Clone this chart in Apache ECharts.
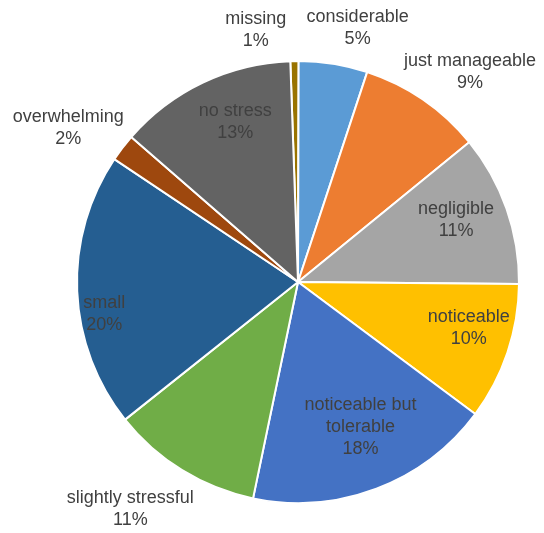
<!DOCTYPE html>
<html>
<head>
<meta charset="utf-8">
<script src="https://cdn.jsdelivr.net/npm/echarts@6/dist/echarts.min.js"></script>
<style>
  html, body { margin: 0; padding: 0; background: #fff; }
  #chart { width: 544px; height: 533px; }
</style>
</head>
<body>
<div id="chart"></div>
<script>
// slices, clockwise from 12 o'clock
var names = ['missing', 'considerable', 'just manageable', 'negligible', 'noticeable',
  'noticeable but\ntolerable', 'slightly stressful', 'small', 'overwhelming', 'no stress'];
var values = [0.6, 5, 9, 11, 10, 18, 11, 20, 2, 13];
var colors = ['#997300', '#5b9bd5', '#ed7d31', '#a5a5a5', '#ffc000',
  '#4472c4', '#70ad47', '#255e91', '#9e480e', '#636363'];
// which labels sit inside the slice
var inside = [false, false, false, true, true, true, false, true, false, true];
// small hand nudges of the labels [dx, dy]
var nudge = [[-38, 14], [17, 9], [21, 10], [-8, -4], [4, -10],
  [0, -20], [-28, 0], [-18, 25], [-18, 8], [13, -1]];

var center = [298, 282];
var labelFont = { fontFamily: 'Liberation Sans', fontSize: 18, lineHeight: 22, color: '#404040' };

function pctLabel(p) {
  return p.name + '\n' + Math.round(p.value) + '%';
}

// invisible copy of the pie, only used to carry labels at a given radius
function labelRing(radius, showIf) {
  return {
    type: 'pie',
    silent: true,
    startAngle: 92,
    center: center,
    radius: radius,
    labelLine: { show: false },
    emphasis: { disabled: true },
    itemStyle: { color: 'transparent', borderWidth: 0 },
    labelLayout: function (p) {
      return { dx: nudge[p.dataIndex][0], dy: nudge[p.dataIndex][1], hideOverlap: false };
    },
    data: names.map(function (n, i) {
      return {
        name: n,
        value: values[i],
        label: Object.assign({
          show: showIf(i),
          position: 'inside',
          align: 'center',
          formatter: pctLabel
        }, labelFont)
      };
    })
  };
}

var chart = echarts.init(document.getElementById('chart'));
chart.setOption({
  animation: false,
  series: [
    {
      type: 'pie',
      startAngle: 92,
      center: center,
      radius: 221,
      label: { show: false },
      labelLine: { show: false },
      itemStyle: { borderColor: '#fff', borderWidth: 2 },
      data: names.map(function (n, i) {
        return { name: n, value: values[i], itemStyle: { color: colors[i] } };
      })
    },
    labelRing([150, 196], function (i) { return inside[i]; }),
    labelRing([255, 272], function (i) { return !inside[i] && i !== 0; }),
    // the "missing" label gets its own ring so it does not hide "considerable"
    labelRing([255, 272], function (i) { return i === 0; })
  ]
});
</script>
</body>
</html>
